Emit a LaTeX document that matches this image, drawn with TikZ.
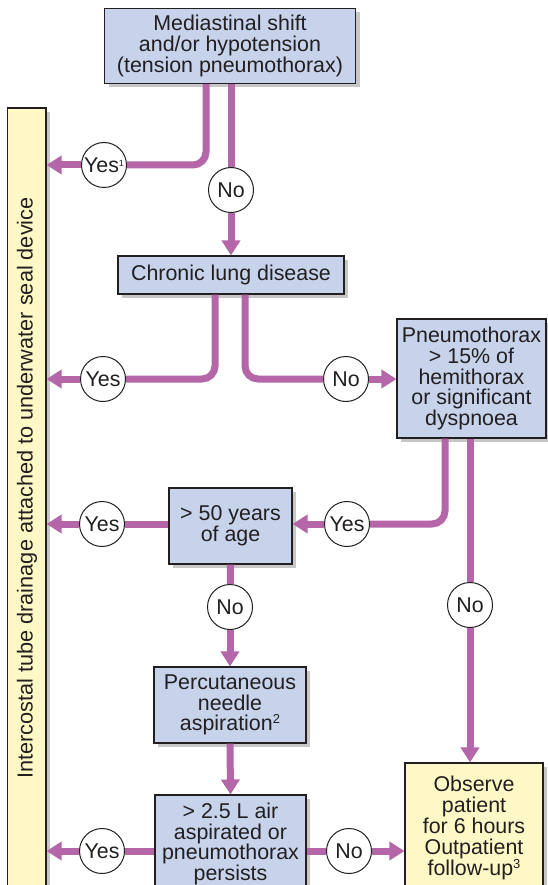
\documentclass[tikz,border=0pt]{standalone}
\usepackage{fontspec}
\setmainfont{Liberation Sans}
\usetikzlibrary{arrows.meta,shadows}
\definecolor{flowc}{HTML}{B466A8}
\definecolor{boxblue}{HTML}{C6D3EB}
\definecolor{boxyellow}{HTML}{FEF8C6}
\definecolor{inkc}{HTML}{231F20}
\tikzset{
 base/.style={draw=inkc, line width=1.1pt, text=inkc, font=\fontsize{21.4}{20.8}\selectfont, align=center, inner sep=0pt,
   drop shadow={shadow xshift=4pt,shadow yshift=-4pt,fill=black,opacity=0.22}},
 bluebox/.style={base, fill=boxblue},
 yellowbox/.style={base, fill=boxyellow},
 choice/.style={circle, draw=inkc, line width=1pt, fill=white, text=inkc, minimum size=45pt, inner sep=0pt, font=\fontsize{21.4}{21}\selectfont},
 flow/.style={draw=flowc, line width=7pt, rounded corners=13pt},
 flowarrow/.style={flow, -{Triangle[length=15pt,width=18pt]}},
}
\begin{document}
\begin{tikzpicture}[x=1pt,y=-1pt]
\useasboundingbox (0,0) rectangle (547,885);
% boxes
\node[yellowbox, minimum width=38.5pt, minimum height=790pt] (bar) at (26.75,503) {};
\node[rotate=90, text=inkc, font=\fontsize{21.7}{21}\selectfont] (bartext) at (27,488) {Intercostal tube drainage attached to underwater seal device};
\node[bluebox, minimum width=251pt, minimum height=75pt] (top) at (230,46) {Mediastinal shift\\and/or hypotension\\(tension pneumothorax)};
\node[bluebox, minimum width=226pt, minimum height=38pt] (chronic) at (231,275) {Chronic lung disease};
\node[bluebox, minimum width=149pt, minimum height=119pt] (pneumo) at (471.5,378.5) {Pneumothorax\\> 15\% of\\hemithorax\\or significant\\dyspnoea};
\node[bluebox, minimum width=123pt, minimum height=76pt] (age) at (230.5,526) {> 50 years\\of age};
\node[bluebox, minimum width=152pt, minimum height=76pt] (perc) at (230,705) {Percutaneous\\needle\\aspiration\raisebox{7pt}{\fontsize{13}{13}\selectfont 2}};
\node[bluebox, minimum width=151pt, minimum height=98pt] (liters) at (230.5,844) {> 2.5 L air\\aspirated or\\pneumothorax\\persists};
\node[yellowbox, minimum width=138pt, minimum height=130pt] (observe) at (474,828) {Observe\\patient\\for 6 hours\\Outpatient\\follow-up\raisebox{7pt}{\fontsize{13}{13}\selectfont 3}};
% decision circles
\node[choice] (yes1) at (104,165) {Yes\raisebox{6pt}{\fontsize{9}{9}\selectfont 1}};
\node[choice] (no1) at (231,190) {No};
\node[choice] (yes2) at (103,379) {Yes};
\node[choice] (no2) at (346,379) {No};
\node[choice] (yes3) at (347,524) {Yes};
\node[choice] (yes4) at (102,524) {Yes};
\node[choice] (no3) at (230,607) {No};
\node[choice] (no4) at (470,605) {No};
\node[choice] (yes5) at (102,851) {Yes};
\node[choice] (no5) at (349,851) {No};
% connectors
\draw[flow] ([xshift=-24pt]top.south) |- (yes1);
\draw[flowarrow] (yes1) -- (yes1 -| bar.east);
\draw[flow] ([xshift=1pt]top.south) -- (no1);
\draw[flowarrow] (no1) -- (no1 |- chronic.north);
\draw[flow] ([xshift=-16pt]chronic.south) |- (yes2);
\draw[flowarrow] (yes2) -- (yes2 -| bar.east);
\draw[flow] ([xshift=14pt]chronic.south) |- (no2);
\draw[flowarrow] (no2) -- (no2 -| pneumo.west);
\draw[flow] ([xshift=-26.5pt]pneumo.south) |- (yes3);
\draw[flowarrow] (yes3) -- (yes3 -| age.east);
\draw[flow] ([xshift=-1.5pt]pneumo.south) -- (no4);
\draw[flowarrow] (no4) -- (no4 |- observe.north);
\draw[flow] (yes4 -| age.west) -- (yes4);
\draw[flowarrow] (yes4) -- (yes4 -| bar.east);
\draw[flow] (age.south) -- (no3);
\draw[flowarrow] (no3) -- (perc.north);
\draw[flowarrow] (perc.south) -- (liters.north);
\draw[flow] (yes5 -| liters.west) -- (yes5);
\draw[flowarrow] (yes5) -- (yes5 -| bar.east);
\draw[flow] (no5 -| liters.east) -- (no5);
\draw[flowarrow] (no5) -- (no5 -| observe.west);
\end{tikzpicture}
\end{document}
